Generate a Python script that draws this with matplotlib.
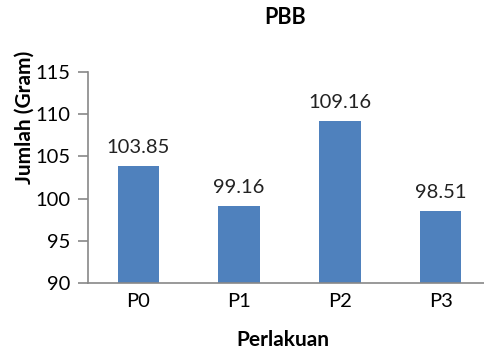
import numpy as np
import matplotlib
matplotlib.use("Agg")
import matplotlib.pyplot as plt

perlakuan = ["P0", "P1", "P2", "P3"]
jumlah = [103.85, 99.16, 109.16, 98.51]

plt.rcParams['font.family'] = ['Lato', 'DejaVu Sans']

fig = plt.figure(figsize=(4.84, 3.51), dpi=100)
ax = fig.add_axes([88/484, 1-283/351, 403/484, 211/351])

x = np.arange(len(perlakuan))
ax.bar(x, np.array(jumlah) - 90, bottom=90, width=0.41, color="#4F81BD")
for xi, v in zip(x, jumlah):
    ax.annotate(f"{v:.2f}", (xi, v), xytext=(0, 9.4), textcoords="offset points",
                ha="center", va="baseline", fontsize=14.5, color="#222222")

ax.set_xlim(-0.5, 3.5)
ax.set_ylim(90, 115)
ax.set_yticks([90, 95, 100, 105, 110, 115])
ax.set_xticks(x)
ax.set_xticklabels(perlakuan)
ax.tick_params(axis="y", length=7.5, width=1.2, color="#888888", labelsize=14.5, pad=5)
ax.tick_params(axis="x", length=0, labelsize=14.5, pad=7)
for s in ["top", "right"]:
    ax.spines[s].set_visible(False)
for s in ["left", "bottom"]:
    ax.spines[s].set_color("#888888")
    ax.spines[s].set_linewidth(1.2)

fig.text(285/484, 1-17/351, "PBB", ha="center", va="center", fontsize=15.5, fontweight="bold")
fig.text(283/484, 1-340/351, "Perlakuan", ha="center", va="center", fontsize=15, fontweight="bold")
fig.text(25/484, 1-117/351, "Jumlah (Gram)", ha="center", va="center", fontsize=15,
         fontweight="bold", rotation=90)

fig.savefig("out.png", dpi=100)
